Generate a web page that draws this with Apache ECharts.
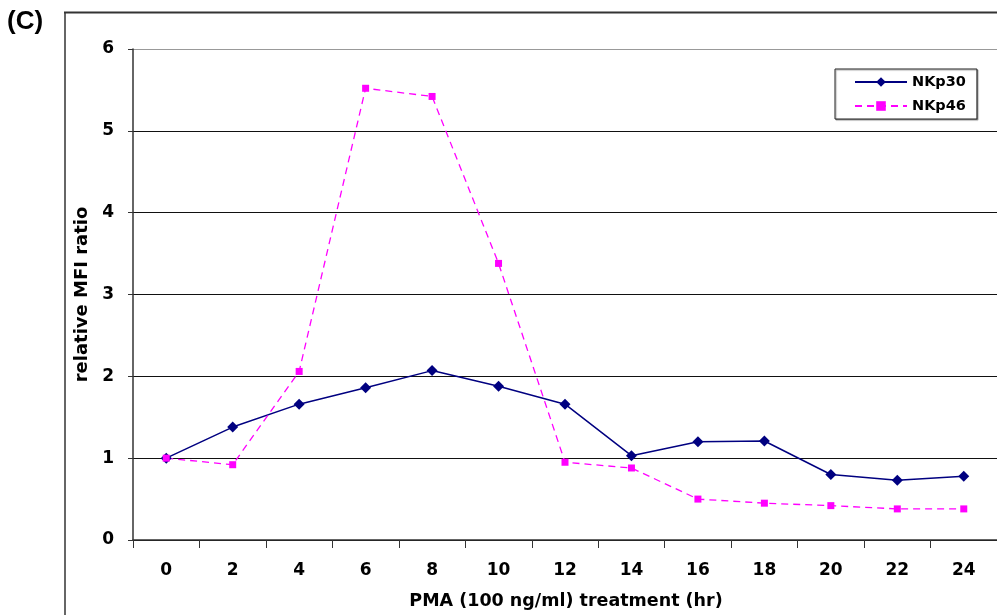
<!DOCTYPE html>
<html>
<head>
<meta charset="utf-8">
<script src="https://cdn.jsdelivr.net/npm/echarts@6/dist/echarts.min.js"></script>
<style>
html,body{margin:0;padding:0;background:#fff;}
#c{width:997px;height:615px;}
</style>
</head>
<body>
<div id="c"></div>
<script>
const categories = ['0','2','4','6','8','10','12','14','16','18','20','22','24'];
const nkp30 = [1.0, 1.38, 1.66, 1.86, 2.07, 1.88, 1.66, 1.03, 1.20, 1.21, 0.80, 0.73, 0.78];
const nkp46 = [1.0, 0.92, 2.06, 5.52, 5.42, 3.38, 0.95, 0.88, 0.50, 0.45, 0.42, 0.38, 0.38];
const yTicks = [0, 1, 2, 3, 4, 5, 6];

const FONT = 'DejaVu Sans';
const chart = echarts.init(document.getElementById('c'), null, {renderer: 'canvas'});
chart.setOption({
  animation: false,
  backgroundColor: '#fff',
  grid: {left: 133, top: 49, width: 871, height: 491, containLabel: false},
  legend: {
    left: 835, top: 69, orient: 'vertical',
    itemWidth: 52, itemHeight: 12, itemGap: 6,
    padding: [4, 11, 4, 19],
    borderColor: '#222', borderWidth: 1,
    shadowColor: 'rgba(0,0,0,0.35)', shadowOffsetX: 1, shadowOffsetY: 1, shadowBlur: 1,
    backgroundColor: '#fff',
    textStyle: {fontFamily: FONT, fontWeight: 'bold', fontSize: 14.5, color: '#000', lineHeight: 18},
    data: ['NKp30', 'NKp46']
  },
  xAxis: {
    type: 'category', data: categories, boundaryGap: true,
    axisLine: {lineStyle: {color: '#333', width: 1.5}},
    axisTick: {show: true, length: 8, inside: false, lineStyle: {color: '#333'}},
    axisLabel: {margin: 22, fontFamily: FONT, fontWeight: 'bold', fontSize: 17, color: '#000'},
    splitLine: {show: false}
  },
  yAxis: {
    type: 'value', min: 0, max: 6, interval: 1,
    axisLine: {show: true, lineStyle: {color: '#333', width: 1.5}},
    axisTick: {show: true, length: 5, lineStyle: {color: '#333'}},
    axisLabel: {margin: 19, fontFamily: FONT, fontWeight: 'bold', fontSize: 17, color: '#000',
      formatter: v => yTicks.includes(v) ? String(v) : ''},
    splitLine: {show: true, lineStyle: {color: ['#000','#111','#111','#111','#111','#111','#999'], width: 1}},
    name: 'relative MFI ratio', nameLocation: 'middle', nameGap: 41, nameRotate: 90,
    nameTextStyle: {fontFamily: FONT, fontWeight: 'bold', fontSize: 18, color: '#000'}
  },
  graphic: [
    {type: 'line', shape: {x1: 65, y1: 12, x2: 65, y2: 615}, style: {stroke: '#333', lineWidth: 1.5}, silent: true},
    {type: 'line', shape: {x1: 64, y1: 12.5, x2: 997, y2: 12.5}, style: {stroke: '#333', lineWidth: 2}, silent: true},
    {type: 'text', left: 7, top: 9, style: {text: '(C)', fontFamily: 'Liberation Sans', fontWeight: 'bold', fontSize: 26, fill: '#000'}},
    {type: 'text', x: 566, y: 601, style: {text: 'PMA (100 ng/ml) treatment (hr)', fontFamily: FONT, fontWeight: 'bold', fontSize: 17.5, fill: '#000', textAlign: 'center', textVerticalAlign: 'middle'}}
  ],
  series: [
    {
      name: 'NKp30', type: 'line', data: nkp30,
      symbol: 'diamond', symbolSize: 11,
      itemStyle: {color: '#000080'},
      lineStyle: {color: '#000080', width: 1.5}
    },
    {
      name: 'NKp46', type: 'line', data: nkp46,
      symbol: 'rect', symbolSize: 7,
      itemStyle: {color: '#FF00FF'},
      lineStyle: {color: '#FF00FF', width: 1.3, type: [7, 5]},
      z: 3
    }
  ]
});
</script>
</body>
</html>
